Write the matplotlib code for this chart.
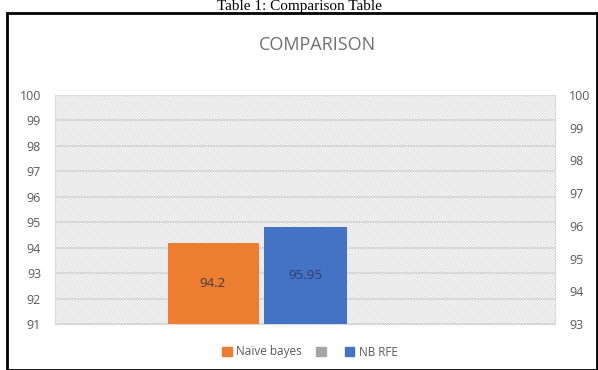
import matplotlib.pyplot as plt
from matplotlib.patches import Rectangle, Patch

series = ["Naïve bayes", "", "NB RFE"]
values = [94.2, None, 95.95]
colors = ["#ED7D31", "#A5A5A5", "#4472C4"]
left_ticks = list(range(91, 101))
right_ticks = list(range(93, 101))

plt.rcParams['font.family'] = ['Open Sans', 'DejaVu Sans']
plt.rcParams['hatch.linewidth'] = 0.6
W, H = 598, 370
fig = plt.figure(figsize=(W / 100, H / 100), dpi=100)

# outer frame and caption
fig.patches.append(Rectangle((7 / W, 0), 590 / W, 357 / H, transform=fig.transFigure,
                             fill=False, edgecolor='black', linewidth=2))
fig.text(0.5, 1.0, "Table 1: Comparison Table", ha='center', va='top',
         fontsize=11, family='Liberation Serif')
fig.text(317 / W, 1 - 45 / H, "COMPARISON", ha='center', va='center',
         fontsize=13, color='#707070')

ax = fig.add_axes([55 / W, 1 - 324 / H, 500 / W, 229 / H])
ax2 = ax.twinx()

ax.set_xlim(-0.5, 0.5)
ax.set_ylim(91, 100)
ax2.set_ylim(93, 100)
ax.set_yticks(left_ticks)
ax2.set_yticks(right_ticks)
ax.set_xticks([])

# hatched background
ax.add_patch(Rectangle((0, 0), 1, 1, transform=ax.transAxes, facecolor='white',
                       edgecolor='#d4d4d4', hatch='\\' * 12, linewidth=0, zorder=0))
for s in ax.spines.values():
    s.set_color('#d9d9d9')
for s in ax2.spines.values():
    s.set_visible(False)
ax.grid(axis='y', color='#d9d9d9', linewidth=1.5, zorder=1)
ax.set_axisbelow(True)

for a in (ax, ax2):
    a.tick_params(length=0, labelsize=9, labelcolor='#595959', pad=10)

# orange on the primary axis, blue on the secondary axis; labels centred in the bars
b1 = ax.bar(-0.184, values[0], width=0.182, color=colors[0], zorder=3)
ax.bar_label(b1, fmt='%g', label_type='center', fontsize=9.5, color='#404040', zorder=4)
b2 = ax2.bar(0.001, values[2], width=0.166, color=colors[2], zorder=3)
ax2.bar_label(b2, fmt='%g', label_type='center', fontsize=9.5, color='#2f3f66', zorder=4)

handles = [Patch(color=c) for c in colors]
fig.legend(handles, series, loc='center', bbox_to_anchor=(310 / W, 1 - 352 / H), ncol=3,
           frameon=False, fontsize=8.5, labelcolor='#595959', handlelength=0.8, handleheight=0.8,
           handletextpad=0.4, columnspacing=1.2)

fig.savefig("out.png", dpi=100)
